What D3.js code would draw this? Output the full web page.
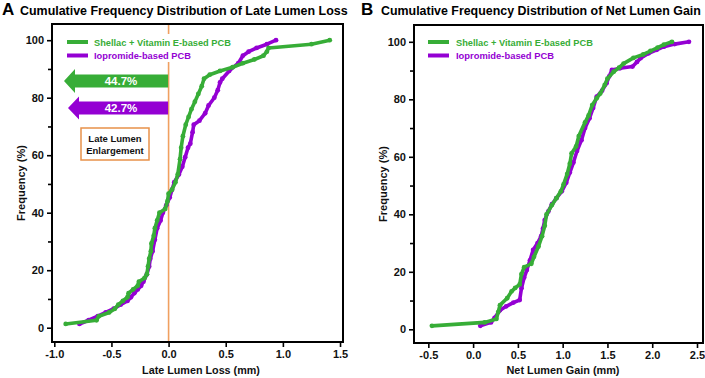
<!DOCTYPE html>
<html><head><meta charset="utf-8">
<script src="https://cdn.jsdelivr.net/npm/d3@7/dist/d3.min.js"></script>
<style>body{margin:0;background:#fff}svg{display:block}text{font-family:"Liberation Sans",Arial,sans-serif;font-weight:bold}</style>
</head><body><svg id="c" width="705" height="378"></svg>
<script>
// ---- data ----
const seriesNames = ["Shellac + Vitamin E-based PCB", "Iopromide-based PCB"];
const titles = ["Cumulative Frequency Distribution of Late Lumen Loss", "Cumulative Frequency Distribution of Net Lumen Gain"];
const panelLetters = ["A", "B"];
const xLabels = ["Late Lumen Loss (mm)", "Net Lumen Gain (mm)"];
const yLabel = "Frequency (%)";
const yTicks = [0, 20, 40, 60, 80, 100];
const yMinorTicks = [10, 30, 50, 70, 90];
const xTicksA = [-1.0, -0.5, 0.0, 0.5, 1.0, 1.5];
const xTicksB = [-0.5, 0.0, 0.5, 1.0, 1.5, 2.0, 2.5];
const arrowValues = ["44.7%", "42.7%"];
const boxLines = ["Late Lumen", "Enlargement"];

const lossShellac = [[-0.90,1.3],[-0.63,2.6],[-0.61,4.0],[-0.52,5.3],[-0.47,6.6],[-0.44,8.0],[-0.40,9.3],[-0.36,10.6],[-0.35,12.0],[-0.31,13.3],[-0.27,14.6],[-0.26,16.0],[-0.21,17.3],[-0.19,18.6],[-0.18,21.3],[-0.17,24.0],[-0.155,26.6],[-0.15,29.3],[-0.13,32.0],[-0.12,34.6],[-0.10,37.3],[-0.08,40.0],[-0.03,41.3],[-0.01,44.0],[0.00,46.6],[0.03,48.0],[0.06,50.6],[0.08,53.3],[0.10,58.6],[0.11,62.6],[0.125,66.6],[0.15,70.6],[0.175,73.3],[0.20,76.0],[0.23,78.6],[0.26,81.3],[0.29,84.0],[0.31,86.6],[0.36,88.0],[0.45,89.3],[0.56,90.6],[0.65,92.0],[0.75,93.3],[0.83,94.6],[0.86,96.0],[0.875,97.3],[1.25,98.6],[1.41,100]];
const lossIopromide = [[-0.78,1.3],[-0.70,2.6],[-0.62,4.0],[-0.55,5.3],[-0.48,6.6],[-0.42,8.0],[-0.36,9.3],[-0.33,10.6],[-0.30,12.0],[-0.27,13.3],[-0.24,14.6],[-0.22,16.0],[-0.19,18.6],[-0.17,21.3],[-0.16,24.0],[-0.14,26.6],[-0.12,30.6],[-0.10,34.6],[-0.07,37.3],[-0.05,40.0],[-0.02,42.6],[0.01,45.3],[0.03,48.0],[0.05,50.6],[0.09,53.3],[0.12,56.0],[0.145,59.3],[0.17,62.6],[0.19,64.0],[0.21,68.0],[0.22,70.6],[0.27,72.0],[0.32,74.6],[0.35,77.3],[0.40,80.0],[0.43,82.6],[0.45,85.3],[0.47,86.6],[0.53,89.3],[0.61,92.0],[0.65,94.6],[0.70,96.0],[0.77,97.3],[0.86,98.6],[0.94,100]];
const gainShellac = [[-0.46,1.2],[0.13,2.4],[0.26,3.6],[0.28,6.0],[0.30,8.4],[0.38,10.8],[0.43,13.2],[0.47,14.4],[0.52,15.6],[0.54,19.2],[0.57,21.6],[0.65,22.8],[0.68,25.2],[0.73,28.8],[0.77,32.4],[0.80,36.0],[0.82,40.0],[0.88,43.2],[0.93,45.6],[0.98,48.0],[1.01,50.4],[1.05,54.0],[1.08,57.6],[1.10,61.2],[1.15,63.6],[1.18,67.2],[1.25,72.0],[1.29,74.4],[1.33,78.0],[1.38,80.4],[1.42,82.0],[1.47,85.0],[1.50,87.2],[1.57,89.6],[1.63,91.0],[1.68,92.4],[1.79,94.4],[1.90,95.6],[1.98,96.8],[2.06,98.0],[2.13,99.0],[2.22,100]];
const gainIopromide = [[0.08,1.2],[0.20,2.4],[0.24,4.0],[0.30,6.6],[0.37,8.0],[0.45,9.3],[0.52,10.2],[0.54,14.3],[0.57,18.0],[0.60,20.6],[0.635,24.0],[0.67,27.6],[0.72,30.0],[0.76,32.4],[0.78,35.0],[0.80,38.0],[0.84,41.0],[0.88,43.5],[0.93,45.6],[0.99,48.0],[1.04,51.0],[1.08,54.5],[1.12,58.0],[1.16,62.0],[1.21,65.8],[1.25,70.0],[1.30,73.4],[1.34,77.0],[1.38,80.9],[1.44,83.0],[1.49,85.6],[1.52,88.0],[1.55,90.2],[1.64,90.8],[1.78,91.4],[1.83,93.0],[1.87,94.3],[1.96,96.0],[2.05,97.2],[2.13,98.3],[2.25,99.2],[2.41,100]];

// ---- styles ----
const GREEN = "#37ad37", PURPLE = "#9400d3", ORANGE = "#f0a060", BOXOR = "#e8914a";
const svg = d3.select("#c");

function fit(sel, w) {
  const n = sel.node(); const L = n.getComputedTextLength();
  const fs = parseFloat(sel.attr("font-size"));
  sel.attr("font-size", (fs * w / L).toFixed(2));
}

const panels = [
  {L:52, T:24, R:343, B:342, xd:[-1.02, 1.526], xt:xTicksA, yr:[327.7, 40.2], data:[lossIopromide, lossShellac],
   letterX:2, titleX:20, titleW:328, legX:67, legTextX:94},
  {L:414, T:25, R:703, B:343, xd:[-0.66, 2.567], xt:xTicksB, yr:[329.3, 41.8], data:[gainIopromide, gainShellac],
   letterX:361, titleX:381, titleW:320, legX:428, legTextX:456}
];

panels.forEach((p, i) => {
  const g = svg.append("g");
  const x = d3.scaleLinear().domain(p.xd).range([p.L, p.R]);
  const y = d3.scaleLinear().domain([0, 100]).range(p.yr);

  // title
  g.append("text").attr("x", p.letterX).attr("y", 15).attr("font-size", 17).text(panelLetters[i]);
  const t = g.append("text").attr("x", p.titleX).attr("y", 14.5).attr("font-size", 13).text(titles[i]);
  fit(t, p.titleW);

  // frame
  g.append("rect").attr("x", p.L).attr("y", p.T).attr("width", p.R - p.L).attr("height", p.B - p.T)
    .attr("fill", "none").attr("stroke", "#000").attr("stroke-width", 2);

  // y axis
  const ya = g.append("g").attr("transform", `translate(${p.L - 1},0)`)
    .call(d3.axisLeft(y).tickValues(yTicks).tickSize(4).tickPadding(3).tickFormat(d3.format("d")));
  ya.select(".domain").remove();
  ya.selectAll("line").attr("stroke-width", 1.6);
  ya.selectAll("text").attr("font-size", 11).attr("font-family", "Liberation Sans, Arial").attr("font-weight", "bold").attr("fill", "#111");
  const ym = g.append("g").attr("transform", `translate(${p.L - 1},0)`)
    .call(d3.axisLeft(y).tickValues(yMinorTicks).tickSize(3).tickFormat(""));
  ym.select(".domain").remove();
  ym.selectAll("line").attr("stroke-width", 1.6);

  // x axis
  const xa = g.append("g").attr("transform", `translate(0,${p.B + 1})`)
    .call(d3.axisBottom(x).tickValues(p.xt).tickSize(4).tickPadding(3).tickFormat(d3.format(".1f")));
  xa.select(".domain").remove();
  xa.selectAll("line").attr("stroke-width", 1.6);
  xa.selectAll("text").attr("font-size", 11).attr("font-family", "Liberation Sans, Arial").attr("font-weight", "bold").attr("fill", "#111")
    .text(d => d3.format(".1f")(d).replace("−", "-"));

  // axis titles
  const cx = p.L + (i === 0 ? 149 : 149);
  const xl = g.append("text").attr("x", i === 0 ? 201 : 563).attr("y", 374).attr("text-anchor", "middle")
    .attr("font-size", 11).attr("fill", "#111").text(xLabels[i]);
  fit(xl, i === 0 ? 118 : 113);
  g.append("text").attr("transform", `translate(${p.L - 27},${(p.T + p.B) / 2}) rotate(-90)`)
    .attr("text-anchor", "middle").attr("font-size", 11).attr("fill", "#111").text(yLabel);

  // zero reference line (panel A)
  if (i === 0) {
    g.append("line").attr("x1", x(0)).attr("x2", x(0)).attr("y1", p.T + 1).attr("y2", p.B - 1)
      .attr("stroke", ORANGE).attr("stroke-width", 1.6);
  }

  // legend background
  g.append("rect").attr("x", p.legX - 6).attr("y", 34).attr("width", 178).attr("height", 28).attr("fill", "#fff");

  // curves: purple first, green on top
  const colors = [PURPLE, GREEN];
  const line = d3.line().x(d => x(d[0])).y(d => y(d[1]));
  p.data.forEach((ds, k) => {
    g.append("path").datum(ds).attr("d", line).attr("fill", "none").attr("stroke", colors[k])
      .attr("stroke-width", 3.6).attr("stroke-linejoin", "round");
    g.append("g").selectAll("circle").data(ds).join("circle")
      .attr("cx", d => x(d[0])).attr("cy", d => y(d[1])).attr("r", 2.4).attr("fill", colors[k]);
  });

  // legend
  const legY = [42, 55.5];
  const legColors = [GREEN, PURPLE];
  const legW = i === 0 ? [137, 97] : [137, 98];
  seriesNames.forEach((n, k) => {
    g.append("line").attr("x1", p.legX).attr("x2", p.legX + 21).attr("y1", legY[k]).attr("y2", legY[k])
      .attr("stroke", legColors[k]).attr("stroke-width", 4);
    const lt = g.append("text").attr("x", p.legTextX).attr("y", legY[k] + 3.6).attr("font-size", 10)
      .attr("fill", legColors[k]).text(n);
    fit(lt, legW[k]);
  });

  // arrows and box (panel A)
  if (i === 0) {
    const arrows = [{tip:64, cy:81, hb:75, bh:6.5, hh:12, c:GREEN},
                    {tip:68, cy:108, hb:79, bh:6.5, hh:11.5, c:PURPLE}];
    arrows.forEach((a, k) => {
      const xe = x(0) - 0.5;
      const pts = [[a.tip, a.cy], [a.hb, a.cy - a.hh], [a.hb, a.cy - a.bh], [xe, a.cy - a.bh],
                   [xe, a.cy + a.bh], [a.hb, a.cy + a.bh], [a.hb, a.cy + a.hh]];
      g.append("polygon").attr("points", pts.map(q => q.join(",")).join(" ")).attr("fill", a.c);
      g.append("text").attr("x", 121).attr("y", a.cy + 4).attr("text-anchor", "middle")
        .attr("font-size", 11.5).attr("fill", "#fff").text(arrowValues[k]);
    });
    g.append("rect").attr("x", 81).attr("y", 128).attr("width", 68).attr("height", 32)
      .attr("fill", "#fff").attr("stroke", BOXOR).attr("stroke-width", 1.5);
    boxLines.forEach((s, k) => {
      g.append("text").attr("x", 115).attr("y", 142 + k * 11.5).attr("text-anchor", "middle")
        .attr("font-size", 9.5).attr("fill", "#111").text(s);
    });
  }
});
</script></body></html>
